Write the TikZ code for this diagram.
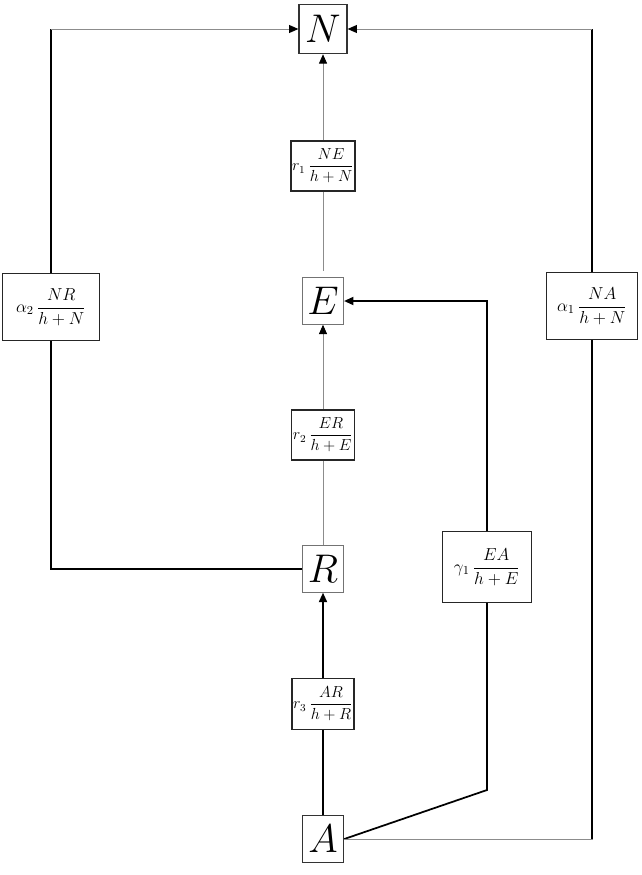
\RequirePackage{fix-cm}
\documentclass[tikz,border=0pt]{standalone}
\usepackage{amsmath}
\usetikzlibrary{arrows.meta, calc}

\begin{document}
\begin{tikzpicture}[
    x=0.75pt, y=-0.75pt,
    var/.style={rectangle, draw=black!80, line width=0.9pt, fill=white, minimum width=31pt, minimum height=35pt, inner sep=0pt, font=\fontsize{30}{30}\selectfont},
    rate/.style={rectangle, draw=black!85, line width=1.3pt, fill=white, minimum width=47pt, minimum height=38pt, inner sep=1pt, font=\fontsize{12}{14}\selectfont},
    side/.style={rectangle, draw=black!85, line width=0.9pt, fill=white, minimum width=68pt, minimum height=50pt, inner sep=1pt, font=\fontsize{13}{15}\selectfont},
    flow/.style={line width=1.3pt, black},
    faint/.style={line width=0.7pt, black!45},
    arr/.style={-{Triangle[length=7pt, width=6pt, color=black]}}
]

% White background, same size as the reference
\path [fill=white] (0, 0) rectangle (642, 875);

% ==================== STATE VARIABLES ====================

\node[var, minimum width=36pt, minimum height=37pt] (N) at (323, 29) {$N$};
\node[var, draw=black!55, line width=0.6pt] (E) at (323, 301) {$E$};
\node[var, draw=black!55, line width=0.6pt] (R) at (323, 569) {$R$};
\node[var] (A) at (323, 839) {$A$};

% ==================== RATE TERMS ====================

\node[rate] (r1) at (323, 166) {$r_1\,\dfrac{NE}{h+N}$};
\node[rate] (r2) at (323, 435) {$r_2\,\dfrac{ER}{h+E}$};
\node[rate, line width=1pt, minimum width=45pt] (r3) at (323, 704) {$r_3\,\dfrac{AR}{h+R}$};

\node[side, line width=1.2pt, minimum width=73pt] (a2) at (51, 307) {$\alpha_2\,\dfrac{NR}{h+N}$};
\node[side, line width=0.7pt] (a1) at (592, 306) {$\alpha_1\,\dfrac{NA}{h+N}$};
\node[side, line width=0.7pt, minimum width=67pt, minimum height=53pt] (g1) at (487, 567) {$\gamma_1\,\dfrac{EA}{h+E}$};

% ==================== CENTRAL CHAIN ====================

\draw[faint, shorten <=5pt] (E) -- (r1);
\draw[faint, arr] (r1) -- (N);

\draw[faint] (R) -- (r2);
\draw[faint, arr] (r2) -- (E);

\draw[flow] (A) -- (r3);
\draw[flow, arr] (r3) -- (R);

% ==================== SIDE PATHS ====================

% R to N (left)
\draw[flow] (R.west) -| (a2.south);
\draw[flow] (a2.north) -- (a2.north |- N.west);
\draw[faint, arr] (a2.north |- N.west) -- (N.west);

% A to E (middle right)
\coordinate (bend) at (487, 790);
\draw[flow] (A.east) -- (bend) -- (g1.south);
\draw[flow, arr] (g1.north) |- (E.east);

% A to N (right)
\draw[faint] (A.east) -| (a1.south);
\draw[flow] (a1.south) -- (a1.south |- A.east);
\draw[flow] (a1.north) -- (a1.north |- N.east);
\draw[faint, arr] (a1.north |- N.east) -- (N.east);

\end{tikzpicture}
\end{document}
